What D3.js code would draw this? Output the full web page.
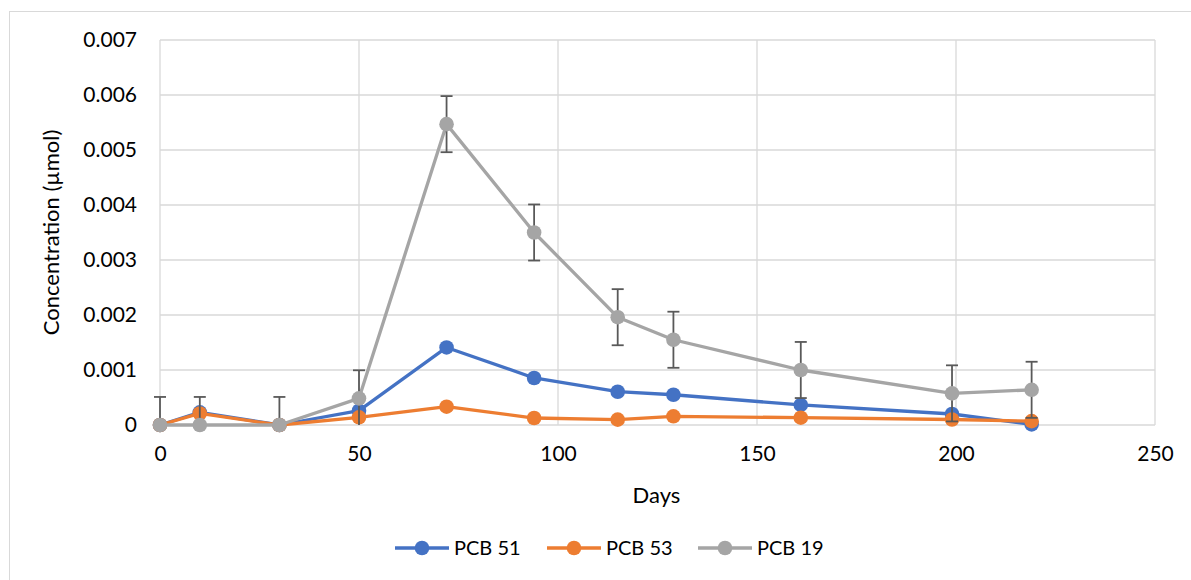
<!DOCTYPE html>
<html>
<head>
<meta charset="utf-8">
<script src="https://cdn.jsdelivr.net/npm/d3@7"></script>
<style>
  html, body { margin: 0; padding: 0; background: #fff; }
  svg { display: block; font-family: Lato, "Liberation Sans", sans-serif; }
</style>
</head>
<body>
<svg id="chart" width="1191" height="580"></svg>
<script>
// Sampling days
const days = [0, 10, 30, 50, 72, 94, 115, 129, 161, 199, 219];

// Concentrations (µmol) per congener
const pcb51 = [0, 0.00023, 0, 0.00026, 0.00141, 0.000855, 0.000605, 0.00055, 0.000365, 0.0002, 0.00001];
const pcb53 = [0, 0.00021, 0, 0.00014, 0.000333, 0.000127, 0.000097, 0.000158, 0.000133, 0.0001, 0.00007];
const pcb19 = [0, 0, 0, 0.000485, 0.00547, 0.0035, 0.00196, 0.00155, 0.001, 0.000575, 0.00064];

// Symmetric error amount shown on PCB 19
const pcb19Error = 0.00051;

const seriesNames = ["PCB 51", "PCB 53", "PCB 19"];
const seriesColors = ["#4472C4", "#ED7D31", "#A5A5A5"];
const xTicks = [0, 50, 100, 150, 200, 250];
const yTicks = [0, 0.001, 0.002, 0.003, 0.004, 0.005, 0.006, 0.007];

const series = [pcb51, pcb53, pcb19].map((vals, i) => ({
  name: seriesNames[i],
  color: seriesColors[i],
  points: days.map((d, j) => ({ x: d, y: vals[j] }))
}));

const svg = d3.select("#chart");

// Outer chart frame
svg.append("rect")
  .attr("x", 9.5).attr("y", 11.5)
  .attr("width", 1300).attr("height", 700)
  .attr("fill", "#fff")
  .attr("stroke", "#d9d9d9").attr("stroke-width", 1);

const plot = { left: 160, right: 1155, top: 40, bottom: 425 };

const x = d3.scaleLinear().domain([0, 250]).range([plot.left, plot.right]);
const y = d3.scaleLinear().domain([0, 0.007]).range([plot.bottom, plot.top]);

// Gridlines
const grid = svg.append("g").attr("stroke", "#d9d9d9").attr("stroke-width", 1.3);
grid.selectAll("line.h").data(yTicks).join("line")
  .attr("x1", plot.left).attr("x2", plot.right)
  .attr("y1", d => y(d)).attr("y2", d => y(d));
grid.selectAll("line.v").data(xTicks).join("line")
  .attr("y1", plot.top).attr("y2", plot.bottom)
  .attr("x1", d => x(d)).attr("x2", d => x(d));

// Axes (labels only; lines come from the grid)
const yAxis = svg.append("g")
  .attr("transform", `translate(${plot.left - 20},0)`)
  .call(d3.axisLeft(y).tickValues(yTicks).tickSize(0).tickFormat(d => d === 0 ? "0" : d3.format(".3f")(d)));
yAxis.select(".domain").remove();
yAxis.selectAll("text").attr("font-size", 21).attr("fill", "#000").attr("font-family", "Lato");

const xAxis = svg.append("g")
  .attr("transform", `translate(0,${plot.bottom + 18})`)
  .call(d3.axisBottom(x).tickValues(xTicks).tickSize(0).tickFormat(d3.format("d")));
xAxis.select(".domain").remove();
xAxis.selectAll("text").attr("font-size", 21).attr("fill", "#000").attr("font-family", "Lato");

// Axis titles
svg.append("text")
  .attr("transform", `translate(59,${(plot.top + plot.bottom) / 2}) rotate(-90)`)
  .attr("text-anchor", "middle")
  .attr("font-size", 22).attr("fill", "#000")
  .text("Concentration (µmol)");

svg.append("text")
  .attr("x", (plot.left + plot.right) / 2 - 1).attr("y", 503)
  .attr("text-anchor", "middle")
  .attr("font-size", 22).attr("fill", "#000")
  .text("Days");

const marks = svg.append("g");

const line = d3.line().x(d => x(d.x)).y(d => y(d.y));

// Lines and markers, drawn in series order
series.forEach(s => {
  const g = marks.append("g");
  g.append("path")
    .datum(s.points)
    .attr("d", line)
    .attr("fill", "none")
    .attr("stroke", s.color)
    .attr("stroke-width", 3.3)
    .attr("stroke-linejoin", "round");

  if (s.name === "PCB 19") {
    // Error bars, clipped at the zero baseline
    const eb = g.append("g").attr("stroke", "#595959").attr("stroke-width", 1.8);
    s.points.forEach(p => {
      const hi = p.y + pcb19Error;
      const lo = Math.max(0, p.y - pcb19Error);
      eb.append("line")
        .attr("x1", x(p.x)).attr("x2", x(p.x))
        .attr("y1", y(hi)).attr("y2", y(lo));
      eb.append("line")
        .attr("x1", x(p.x) - 6).attr("x2", x(p.x) + 6)
        .attr("y1", y(hi)).attr("y2", y(hi));
      if (p.y - pcb19Error >= 0) {
        eb.append("line")
          .attr("x1", x(p.x) - 6).attr("x2", x(p.x) + 6)
          .attr("y1", y(lo)).attr("y2", y(lo));
      }
    });
  }

  g.selectAll("circle").data(s.points).join("circle")
    .attr("cx", d => x(d.x)).attr("cy", d => y(d.y))
    .attr("r", 7.3)
    .attr("fill", s.color);
});

// Legend
const legendItems = [
  { name: seriesNames[0], color: seriesColors[0], x0: 395 },
  { name: seriesNames[1], color: seriesColors[1], x0: 547 },
  { name: seriesNames[2], color: seriesColors[2], x0: 698 }
];
const ly = 548;
const legend = svg.append("g");
legendItems.forEach(it => {
  legend.append("line")
    .attr("x1", it.x0).attr("x2", it.x0 + 54)
    .attr("y1", ly).attr("y2", ly)
    .attr("stroke", it.color).attr("stroke-width", 3.3);
  legend.append("circle")
    .attr("cx", it.x0 + 27).attr("cy", ly).attr("r", 7.3)
    .attr("fill", it.color);
  legend.append("text")
    .attr("x", it.x0 + 59).attr("y", ly + 7)
    .attr("font-size", 20).attr("fill", "#000")
    .text(it.name);
});
</script>
</body>
</html>
